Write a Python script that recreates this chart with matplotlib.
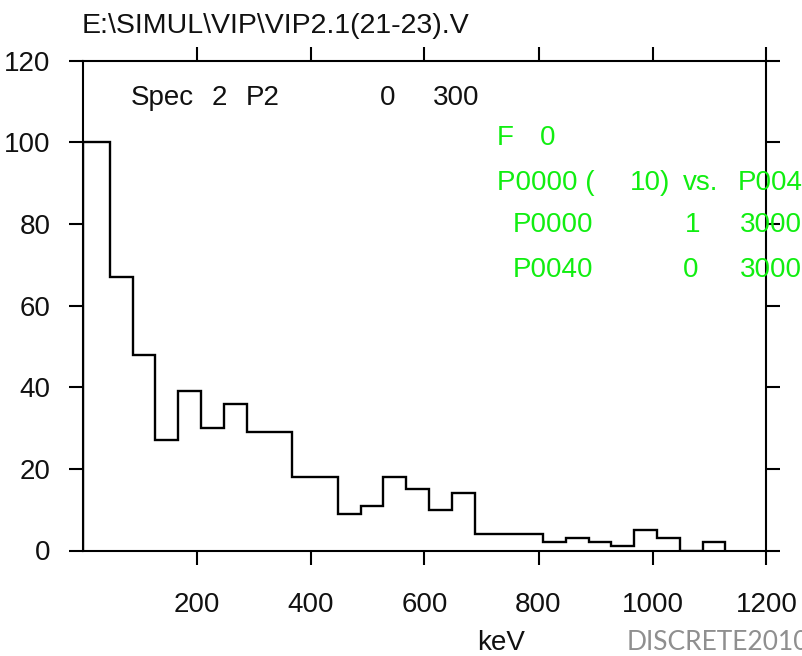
import matplotlib
matplotlib.use("Agg")
import matplotlib.pyplot as plt

# ---- data ----
bin_edges = [0, 48, 88, 128, 168, 208, 248, 288, 328, 368, 408, 448, 488, 528,
             568, 608, 648, 688, 728, 768, 808, 848, 888, 928, 968, 1008, 1048,
             1088, 1128]
counts = [100, 67, 48, 27, 39, 30, 36, 29, 29, 18, 18, 9, 11, 18, 15, 10, 14,
          4, 4, 4, 2, 3, 2, 1, 5, 3, 0, 2]
x_ticks = [200, 400, 600, 800, 1000, 1200]
y_ticks = [0, 20, 40, 60, 80, 100, 120]
title = "E:\\SIMUL\\VIP\\VIP2.1(21-23).V"
x_label = "keV"

plt.rcParams["font.family"] = ["Liberation Sans", "DejaVu Sans"]

W, H = 802, 656
fig = plt.figure(figsize=(W / 100, H / 100), dpi=100)
fig.patch.set_facecolor("white")

L, R, T, B = 82.5, 766.5, 60.5, 550.5
ax = fig.add_axes([L / W, 1 - B / H, (R - L) / W, (B - T) / H])
ax.stairs(counts, bin_edges, color="black", linewidth=1.7, baseline=0)
ax.set_xlim(0, 1200)
ax.set_ylim(0, 120)
ax.set_xticks(x_ticks)
ax.set_yticks(y_ticks)
ax.tick_params(axis="both", direction="out", length=10, width=1.5,
               color="black", labelsize=20, labelcolor="#111111")
ax.tick_params(axis="x", top=True, labeltop=False, pad=20)
ax.tick_params(axis="y", right=True, labelright=False, pad=13)
for s in ax.spines.values():
    s.set_linewidth(1.5)


def ftxt(x, y, s, **kw):
    kw.setdefault("fontsize", 20)
    kw.setdefault("va", "baseline")
    kw.setdefault("ha", "left")
    fig.text(x / W, 1 - y / H, s, **kw)


ftxt(82, 33, title, color="#111111", fontsize=20.5)
ftxt(131, 105, "Spec", color="#111111")
ftxt(212, 105, "2", color="#111111")
ftxt(246, 105, "P2", color="#111111")
ftxt(380, 105, "0", color="#111111")
ftxt(433, 105, "300", color="#111111")

green = "#11ee11"
ftxt(497, 145, "F", color=green)
ftxt(540, 145, "0", color=green)
ftxt(497, 190, "P0000 (", color=green)
ftxt(630, 190, "10)", color=green)
ftxt(683, 190, "vs.", color=green)
ftxt(738, 190, "P004", color=green)
ftxt(513, 232, "P0000", color=green)
ftxt(685, 232, "1", color=green)
ftxt(740, 232, "3000", color=green)
ftxt(513, 277, "P0040", color=green)
ftxt(683, 277, "0", color=green)
ftxt(740, 277, "3000", color=green)

ftxt(477, 650, x_label, color="#111111")
ftxt(627, 650, "DISCRETE2010", color="#8f8f8f", family=["Lato", "DejaVu Sans"],
     fontsize=19)

fig.savefig("out.png", dpi=100)
